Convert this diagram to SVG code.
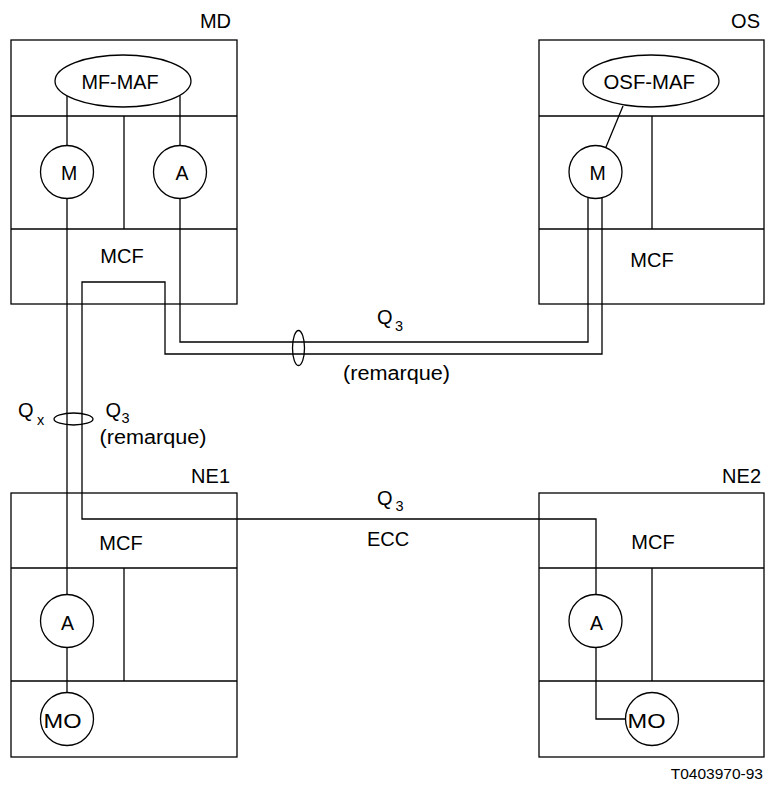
<svg xmlns="http://www.w3.org/2000/svg" width="765" height="785" viewBox="0 0 765 785">
<style>
  .ln { fill: none; stroke: #000; stroke-width: 1.3; }
  .bx { fill: #fff; stroke: #000; stroke-width: 1.3; }
  .t { font-family: "Liberation Sans", Arial, sans-serif; font-size: 20px; fill: #000; }
  .c { font-family: "Liberation Sans", Arial, sans-serif; font-size: 19.5px; fill: #000; text-anchor: middle; }
  .s { font-family: "Liberation Sans", Arial, sans-serif; font-size: 14.5px; fill: #000; }
  .e { text-anchor: end; }
  .m { text-anchor: middle; }
</style>
<rect width="765" height="785" fill="#fff"/>

<g id="MD">
  <rect class="bx" x="11" y="40" width="226" height="264"/>
  <line class="ln" x1="11" y1="116" x2="237" y2="116"/>
  <line class="ln" x1="11" y1="229" x2="237" y2="229"/>
  <line class="ln" x1="124" y1="116" x2="124" y2="229"/>
  <ellipse class="ln" cx="123" cy="81" rx="68" ry="26"/>
  <text class="t" x="81.5" y="88.5" textLength="77" lengthAdjust="spacingAndGlyphs">MF-MAF</text>
  <line class="ln" x1="67" y1="96" x2="67" y2="145.5"/>
  <line class="ln" x1="180" y1="95.5" x2="180" y2="145.5"/>
  <circle class="ln" cx="67" cy="172" r="26.5"/>
  <text class="c" x="69" y="179.5">M</text>
  <circle class="ln" cx="180" cy="172" r="26.5"/>
  <text class="c" x="182" y="179.5">A</text>
  <text class="t m" x="122" y="263">MCF</text>
  <text class="t e" x="231" y="28">MD</text>
</g>

<g id="OS">
  <rect class="bx" x="539" y="40" width="225" height="264"/>
  <line class="ln" x1="539" y1="116" x2="764" y2="116"/>
  <line class="ln" x1="539" y1="229" x2="764" y2="229"/>
  <line class="ln" x1="652" y1="116" x2="652" y2="229"/>
  <ellipse class="ln" cx="651" cy="81" rx="68" ry="26"/>
  <text class="t" x="603.5" y="89" textLength="91.5" lengthAdjust="spacingAndGlyphs">OSF-MAF</text>
  <line class="ln" x1="623" y1="106" x2="606" y2="147"/>
  <circle class="ln" cx="595.5" cy="172" r="26.5"/>
  <text class="c" x="597.5" y="179.5">M</text>
  <text class="t m" x="652" y="267">MCF</text>
  <text class="t e" x="760" y="28">OS</text>
</g>

<g id="NE1">
  <rect class="bx" x="11" y="493" width="226" height="264"/>
  <line class="ln" x1="11" y1="568" x2="237" y2="568"/>
  <line class="ln" x1="11" y1="681" x2="237" y2="681"/>
  <line class="ln" x1="124" y1="568" x2="124" y2="681"/>
  <text class="t m" x="121" y="550">MCF</text>
  <circle class="ln" cx="67" cy="621" r="26.5"/>
  <text class="c" x="67.5" y="629.5">A</text>
  <line class="ln" x1="67" y1="647.5" x2="67" y2="692.5"/>
  <circle class="ln" cx="67" cy="719" r="26.5"/>
  <text class="c" x="62.5" y="728" textLength="38" lengthAdjust="spacingAndGlyphs">MO</text>
  <text class="t e" x="230" y="482.5">NE1</text>
</g>

<g id="NE2">
  <rect class="bx" x="539" y="493" width="225" height="264"/>
  <line class="ln" x1="539" y1="568" x2="764" y2="568"/>
  <line class="ln" x1="539" y1="681" x2="764" y2="681"/>
  <line class="ln" x1="652" y1="568" x2="652" y2="681"/>
  <text class="t m" x="653" y="548.5">MCF</text>
  <circle class="ln" cx="595.5" cy="621" r="26.5"/>
  <text class="c" x="596.5" y="629.5">A</text>
  <circle class="ln" cx="652" cy="719" r="26.5"/>
  <text class="c" x="646.5" y="728" textLength="38" lengthAdjust="spacingAndGlyphs">MO</text>
  <text class="t e" x="761" y="482.5">NE2</text>
</g>

<g id="connectors">
  <polyline class="ln" points="67,198.5 67,594.5"/>
  <polyline class="ln" points="180,198.5 180,342 588,342 588,197.5"/>
  <polyline class="ln" points="602,197.8 602,354 165,354 165,282 82,282 82,519 596,519 596,594.5"/>
  <polyline class="ln" points="596,647.5 596,719 625.5,719"/>
  <ellipse class="ln" cx="298.5" cy="348" rx="6" ry="17.5"/>
  <ellipse class="ln" cx="73.5" cy="419" rx="19.5" ry="6"/>
  <text class="t" x="377" y="324">Q</text><text class="s" x="395" y="330.5">3</text>
  <text class="t" x="343" y="380" textLength="107" lengthAdjust="spacingAndGlyphs">(remarque)</text>
  <text class="t" x="18" y="417">Q</text><text class="s" x="37" y="424.5">x</text>
  <text class="t" x="105.5" y="416.5">Q</text><text class="s" x="121.5" y="422.5">3</text>
  <text class="t" x="99.5" y="444" textLength="107" lengthAdjust="spacingAndGlyphs">(remarque)</text>
  <text class="t" x="377" y="505">Q</text><text class="s" x="395.5" y="511">3</text>
  <text class="t m" x="388" y="546">ECC</text>
</g>

<text class="t e" x="763" y="779" style="font-size:15.5px">T0403970-93</text>
</svg>
